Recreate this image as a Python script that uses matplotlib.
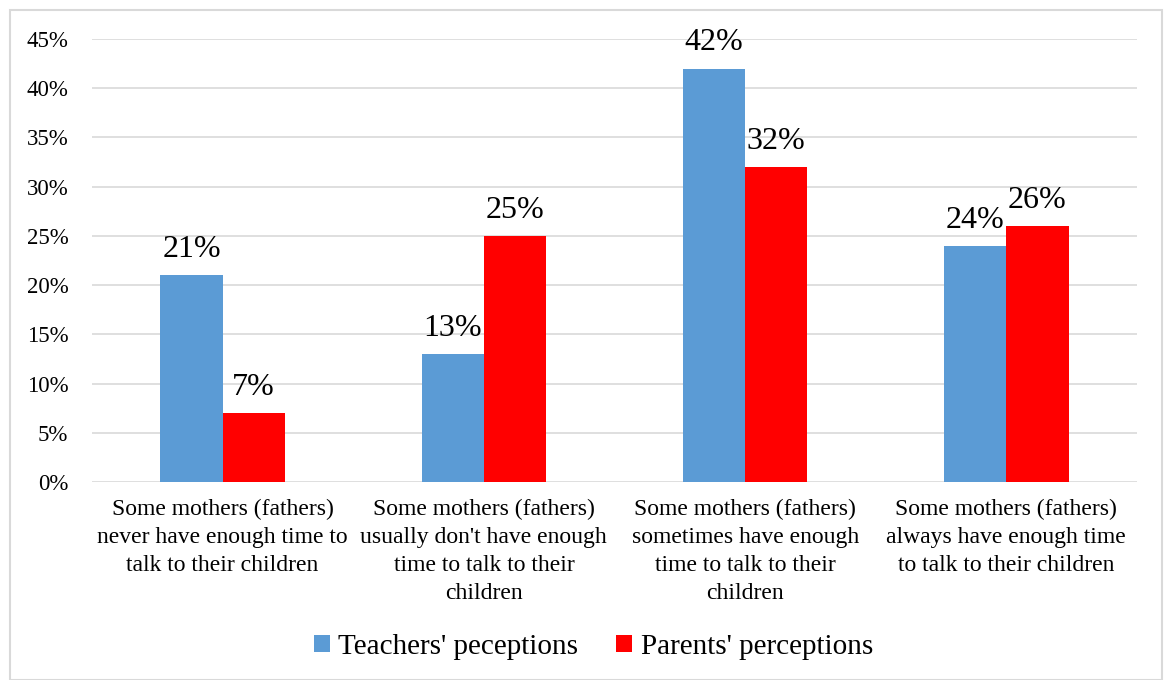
import numpy as np
import matplotlib.pyplot as plt
from matplotlib.patches import Rectangle

plt.rcParams['font.family'] = ['Liberation Serif', 'DejaVu Serif']

categories = [
    "Some mothers (fathers)\nnever have enough time to\ntalk to their children",
    "Some mothers (fathers)\nusually don't have enough\ntime to talk to their\nchildren",
    "Some mothers (fathers)\nsometimes have enough\ntime to talk to their\nchildren",
    "Some mothers (fathers)\nalways have enough time\nto talk to their children",
]
teachers = [21, 13, 42, 24]
parents = [7, 25, 32, 26]
series_names = ["Teachers' peceptions", "Parents' perceptions"]
yticks = [0, 5, 10, 15, 20, 25, 30, 35, 40, 45]

fig = plt.figure(figsize=(11.67, 6.8), dpi=100)
ax = fig.add_axes([92 / 1167, 1 - 482 / 680, (1137 - 92) / 1167, (482 - 39) / 680])

x = np.arange(len(categories))
w = 0.238
b1 = ax.bar(x - w / 2, teachers, w, color='#5B9BD5', label=series_names[0], zorder=3)
b2 = ax.bar(x + w / 2, parents, w, color='#FF0000', label=series_names[1], zorder=3)

for bars, vals in [(b1, teachers), (b2, parents)]:
    for r, v in zip(bars, vals):
        ax.annotate(f"{v}%", (r.get_x() + r.get_width() / 2, v),
                    xytext=(0, 8), textcoords='offset points',
                    ha='center', va='bottom', fontsize=23)

ax.set_xlim(-0.5, len(categories) - 0.5)
ax.set_ylim(0, 45)
ax.set_yticks(yticks)
ax.set_yticklabels([f"{t}%" for t in yticks], fontsize=16.5)
ax.set_xticks(x)
ax.set_xticklabels(categories, fontsize=17, linespacing=1.45, va='top')
ax.tick_params(axis='both', length=0)
ax.tick_params(axis='x', pad=12)
ax.tick_params(axis='y', pad=17)
ax.yaxis.grid(True, color='#D9D9D9', linewidth=1.2, zorder=0)
for s in ax.spines.values():
    s.set_visible(False)

fig.legend(handles=[b1, b2], loc='center', bbox_to_anchor=(593.5 / 1167, 1 - 647 / 680),
           ncol=2, frameon=False, fontsize=21, handlelength=0.55, handleheight=0.55,
           handletextpad=0.3, columnspacing=1.3)

fig.patches.append(Rectangle((10 / 1167, 0), 1152 / 1167, 1 - 10 / 680,
                             transform=fig.transFigure, fill=False,
                             edgecolor='#D9D9D9', linewidth=1.5))

fig.savefig('out.png', dpi=100)
